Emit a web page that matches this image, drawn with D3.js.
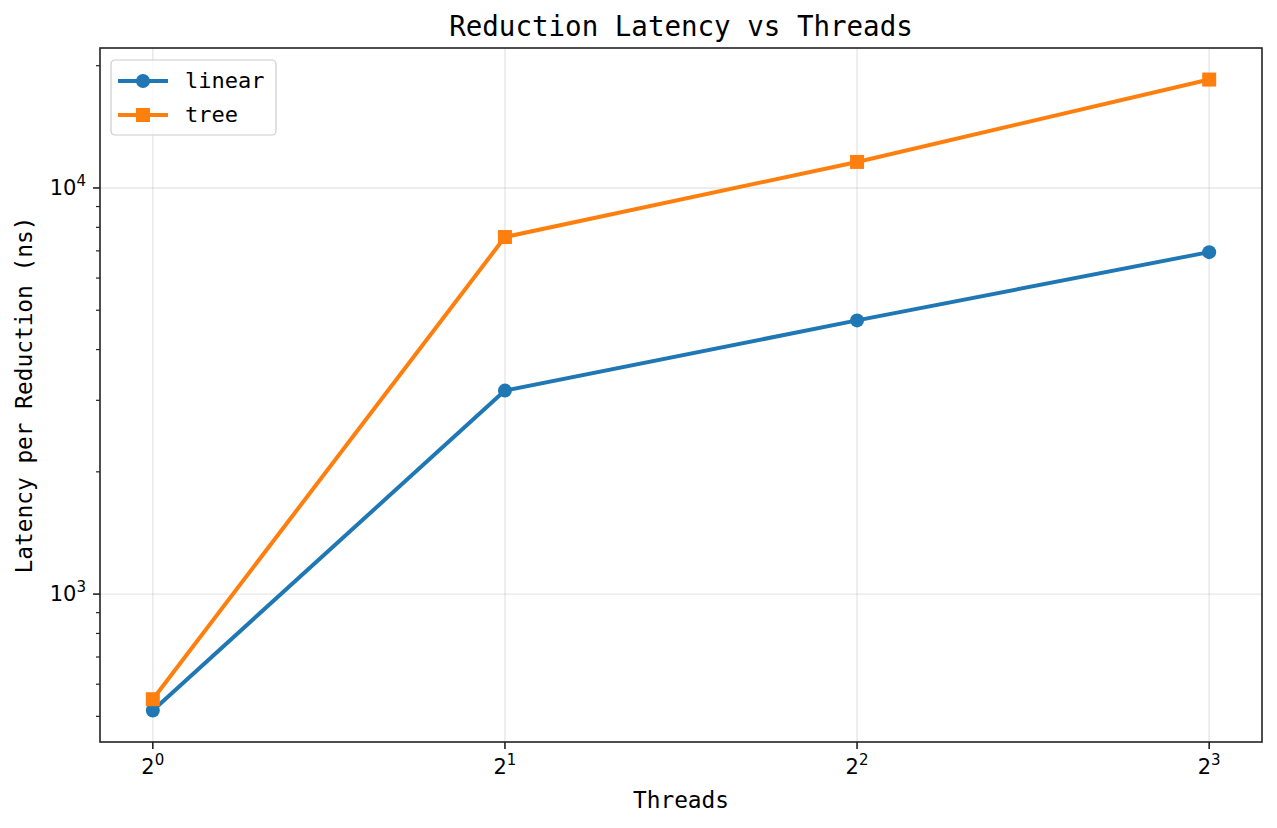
<!DOCTYPE html>
<html>
<head>
<meta charset="utf-8">
<script src="https://cdn.jsdelivr.net/npm/d3@7"></script>
<style>
  body { margin: 0; background: #fff; }
  svg text { fill: #000; }
</style>
</head>
<body>
<div id="chart"></div>
<script>
// data
const threads = [1, 2, 4, 8]
const linearNs = [517, 3170, 4720, 6950]
const treeNs = [551, 7570, 11590, 18490]
const xTicks = [1, 2, 4, 8]
const yTicks = [1000, 10000]
const yMinor = [500, 600, 700, 800, 900, 2000, 3000, 4000, 5000, 6000, 7000, 8000, 9000, 20000]

const W = 1277, H = 828
const m = { top: 48, right: 15, bottom: 86, left: 100 }
const mono = 'DejaVu Sans Mono, monospace'
const sans = 'DejaVu Sans, sans-serif'

const svg = d3.select('#chart').append('svg').attr('width', W).attr('height', H)

// log 轴, matplotlib 默认 5% 边距
const lx = [Math.log2(1), Math.log2(8)]
const px = (lx[1] - lx[0]) * 0.05
const x = d3.scaleLog().base(2)
  .domain([Math.pow(2, lx[0] - px), Math.pow(2, lx[1] + px)])
  .range([m.left, W - m.right])

const allY = linearNs.concat(treeNs)
const ly = [Math.log10(d3.min(allY)), Math.log10(d3.max(allY))]
const py = (ly[1] - ly[0]) * 0.05
const y = d3.scaleLog()
  .domain([Math.pow(10, ly[0] - py), Math.pow(10, ly[1] + py)])
  .range([H - m.bottom, m.top])

const g = svg.append('g')

// grid
g.selectAll('.gx').data(xTicks).enter().append('line')
  .attr('x1', d => x(d)).attr('x2', d => x(d))
  .attr('y1', m.top).attr('y2', H - m.bottom)
  .attr('stroke', '#b0b0b0').attr('stroke-opacity', 0.3).attr('stroke-width', 1.4)
g.selectAll('.gy').data(yTicks).enter().append('line')
  .attr('y1', d => y(d)).attr('y2', d => y(d))
  .attr('x1', m.left).attr('x2', W - m.right)
  .attr('stroke', '#b0b0b0').attr('stroke-opacity', 0.3).attr('stroke-width', 1.4)

// lines
const line = d3.line().x(d => x(d[0])).y(d => y(d[1]))
const series = [
  { name: 'linear', vals: linearNs, color: '#1f77b4', marker: 'circle' },
  { name: 'tree', vals: treeNs, color: '#ff7f0e', marker: 'square' }
]

function drawMarker(sel, s, cx, cy) {
  if (s.marker === 'circle') {
    sel.append('circle').attr('cx', cx).attr('cy', cy).attr('r', 7).attr('fill', s.color)
  } else {
    sel.append('rect').attr('x', cx - 7).attr('y', cy - 7).attr('width', 14).attr('height', 14).attr('fill', s.color)
  }
}

series.forEach(s => {
  const pts = threads.map((t, i) => [t, s.vals[i]])
  g.append('path').datum(pts)
    .attr('d', line)
    .attr('fill', 'none')
    .attr('stroke', s.color)
    .attr('stroke-width', 4)
    .attr('stroke-linejoin', 'round')
  pts.forEach(p => drawMarker(g, s, x(p[0]), y(p[1])))
})

// frame
g.append('rect')
  .attr('x', m.left).attr('y', m.top)
  .attr('width', W - m.right - m.left).attr('height', H - m.bottom - m.top)
  .attr('fill', 'none').attr('stroke', '#222').attr('stroke-width', 1.6)

// x ticks
const xt = g.selectAll('.xt').data(xTicks).enter().append('g')
  .attr('transform', d => 'translate(' + x(d) + ',' + (H - m.bottom) + ')')
xt.append('line').attr('y1', 0).attr('y2', 7).attr('stroke', '#222').attr('stroke-width', 1.6)
const xtt = xt.append('text').attr('y', 32).attr('text-anchor', 'middle')
  .style('font-family', sans).style('font-size', '21px')
xtt.append('tspan').text('2')
xtt.append('tspan').attr('dy', -9).style('font-size', '15px').text(d => Math.round(Math.log2(d)))

// y ticks
const yt = g.selectAll('.yt').data(yTicks).enter().append('g')
  .attr('transform', d => 'translate(' + m.left + ',' + y(d) + ')')
yt.append('line').attr('x1', 0).attr('x2', -7).attr('stroke', '#222').attr('stroke-width', 1.6)
const ytt = yt.append('text').attr('x', -14).attr('y', 7).attr('text-anchor', 'end')
  .style('font-family', sans).style('font-size', '21px')
ytt.append('tspan').text('10')
ytt.append('tspan').attr('dy', -9).style('font-size', '15px').text(d => Math.round(Math.log10(d)))

g.selectAll('.ym').data(yMinor).enter().append('line')
  .attr('x1', m.left).attr('x2', m.left - 4)
  .attr('y1', d => y(d)).attr('y2', d => y(d))
  .attr('stroke', '#222').attr('stroke-width', 1.2)

// labels
svg.append('text').attr('x', (m.left + W - m.right) / 2).attr('y', 36)
  .attr('text-anchor', 'middle').style('font-family', mono).style('font-size', '27.5px')
  .text('Reduction Latency vs Threads')
svg.append('text').attr('x', (m.left + W - m.right) / 2).attr('y', 808)
  .attr('text-anchor', 'middle').style('font-family', mono).style('font-size', '22.8px')
  .text('Threads')
svg.append('text')
  .attr('transform', 'translate(32,' + ((m.top + H - m.bottom) / 2) + ') rotate(-90)')
  .attr('text-anchor', 'middle').style('font-family', mono).style('font-size', '22.8px')
  .text('Latency per Reduction (ns)')

// legend
const lg = svg.append('g').attr('transform', 'translate(111,60)')
lg.append('rect').attr('width', 165).attr('height', 75).attr('rx', 4)
  .attr('fill', '#fff').attr('fill-opacity', 0.8).attr('stroke', '#ccc').attr('stroke-width', 1.2)
series.forEach((s, i) => {
  const yy = 21 + i * 34
  lg.append('line').attr('x1', 7).attr('x2', 57).attr('y1', yy).attr('y2', yy)
    .attr('stroke', s.color).attr('stroke-width', 4)
  drawMarker(lg, s, 32, yy)
  lg.append('text').attr('x', 74).attr('y', yy + 7)
    .style('font-family', mono).style('font-size', '22px').text(s.name)
})
</script>
</body>
</html>
